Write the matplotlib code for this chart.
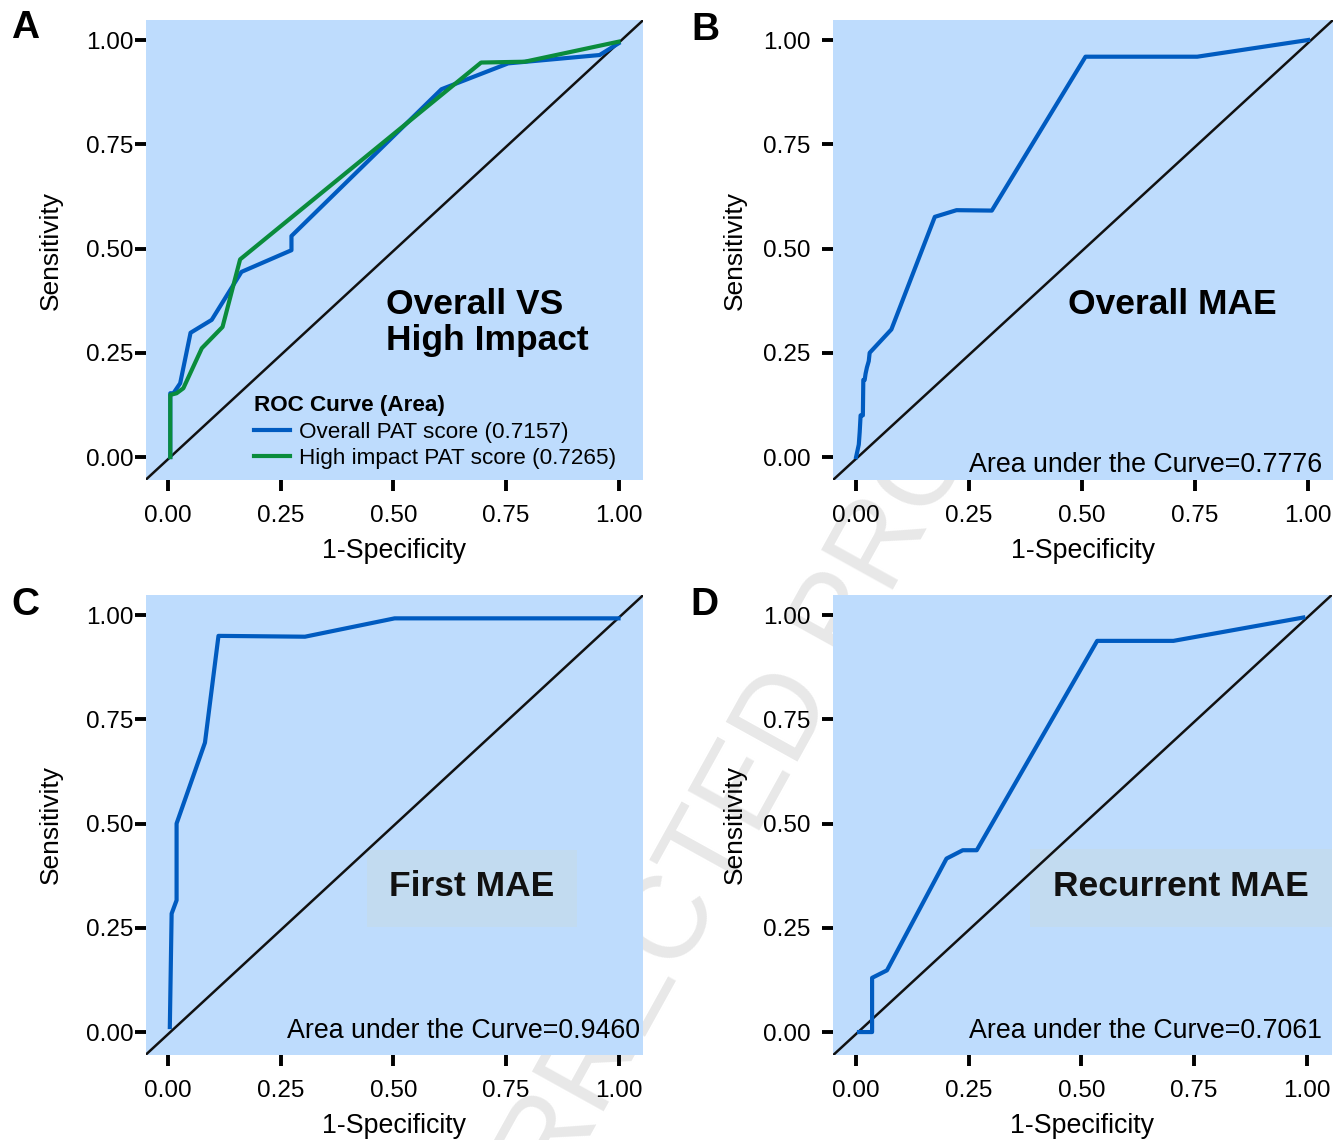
import matplotlib
matplotlib.use("Agg")
import matplotlib.pyplot as plt
from matplotlib.patches import Rectangle

plt.rcParams["font.family"] = ["Liberation Sans", "DejaVu Sans"]

BG = "#BEDCFD"
BOX = "#C2DBF0"
BLUE = "#005BC0"
GREEN = "#0A8C3C"

ticks = [0.0, 0.25, 0.5, 0.75, 1.0]
tick_labels = ["0.00", "0.25", "0.50", "0.75", "1.00"]

# A: overall vs high impact PAT score
fpr_overall = [0.005, 0.005, 0.012, 0.027, 0.050, 0.097, 0.163, 0.274, 0.274, 0.607, 0.755, 0.958, 1.0]
tpr_overall = [0.0, 0.153, 0.153, 0.177, 0.298, 0.329, 0.444, 0.496, 0.530, 0.882, 0.944, 0.964, 0.992]
fpr_high = [0.005, 0.005, 0.019, 0.034, 0.075, 0.121, 0.160, 0.695, 0.792, 1.0]
tpr_high = [0.0, 0.149, 0.153, 0.165, 0.261, 0.312, 0.474, 0.946, 0.948, 0.996]

# B: overall MAE
fpr_b = [0.001, 0.007, 0.009, 0.011, 0.016, 0.017, 0.020, 0.022, 0.025, 0.029, 0.031,
         0.079, 0.175, 0.223, 0.301, 0.508, 0.755, 1.0]
tpr_b = [0.0, 0.03, 0.06, 0.10, 0.10, 0.185, 0.185, 0.20, 0.215, 0.23, 0.25,
         0.306, 0.576, 0.592, 0.591, 0.960, 0.960, 1.0]

# C: first MAE
fpr_c = [0.004, 0.008, 0.019, 0.019, 0.082, 0.112, 0.304, 0.503, 1.0]
tpr_c = [0.012, 0.284, 0.316, 0.50, 0.694, 0.95, 0.948, 0.992, 0.992]

# D: recurrent MAE
fpr_d = [0.007, 0.036, 0.036, 0.069, 0.201, 0.237, 0.268, 0.535, 0.704, 0.992]
tpr_d = [0.0, 0.0, 0.13, 0.148, 0.416, 0.436, 0.436, 0.938, 0.938, 0.994]

auc_b = 0.7776
auc_c = 0.9460
auc_d = 0.7061

W, H = 1343, 1140
fig = plt.figure(figsize=(W / 100, H / 100), dpi=100)

# faint watermark behind the panels
fig.text(0.518, 0.225, "UNCORRECTED PROOF", rotation=61, fontsize=85,
         color="#E8E8E8", ha="center", va="center", zorder=-1)


def make_axes(left, bottom, width, ypad, ylab_x):
    ax = fig.add_axes([left / W, (H - bottom) / H, width / W, 460 / H])
    ax.set_facecolor(BG)
    for s in ax.spines.values():
        s.set_visible(False)
    ax.set_xlim(-0.05, 1.055)
    ax.set_ylim(-0.055, 1.048)
    ax.set_xticks(ticks, tick_labels)
    ax.set_yticks(ticks, tick_labels)
    ax.tick_params(direction="out", length=8, width=2.8, labelsize=17.5, colors="black")
    ax.tick_params(axis="x", pad=10)
    ax.tick_params(axis="y", pad=ypad)
    ax.plot(ax.get_xlim(), ax.get_ylim(), color="#111111", lw=1.8, zorder=2)
    ax.set_xlabel("1-Specificity", fontsize=19.3)
    ax.set_ylabel("Sensitivity", fontsize=19)
    ax.xaxis.set_label_coords(0.5, -0.127)
    ax.yaxis.set_label_coords(ylab_x, 0.5)
    return ax


axA = make_axes(145.5, 480, 497.8, 0.5, -0.166)
axB = make_axes(833, 480, 500, 8.4, -0.173)
axC = make_axes(145.5, 1055, 497.8, 0.5, -0.166)
axD = make_axes(833.3, 1055, 498.4, 8.4, -0.173)

# A
axA.plot(fpr_overall, tpr_overall, color=BLUE, lw=3, label="Overall PAT score (0.7157)", zorder=3)
axA.plot(fpr_high, tpr_high, color=GREEN, lw=3, label="High impact PAT score (0.7265)", zorder=3)
# multi-line text: baseline anchor is the last line
axA.text(0.483, 0.257, "Overall VS\nHigh Impact", fontsize=25.5, fontweight="bold",
         va="baseline", ha="left", linespacing=1.13)
leg = axA.legend(loc="upper left", bbox_to_anchor=(0.218, 0.185), borderaxespad=0, borderpad=0,
                 frameon=False, fontsize=16.2, title="ROC Curve (Area)",
                 title_fontproperties={"weight": "bold", "size": 16.2},
                 alignment="left", handlelength=1.6, handletextpad=0.4, labelspacing=0.25)

# B
axB.plot(fpr_b, tpr_b, color=BLUE, lw=3, zorder=3)
axB.text(0.470, 0.343, "Overall MAE", fontsize=25.5, fontweight="bold", va="baseline")
axB.text(0.978, 0.017, "Area under the Curve={:.4f}".format(auc_b), fontsize=19.3,
         ha="right", va="baseline", transform=axB.transAxes)

# C
axC.plot(fpr_c, tpr_c, color=BLUE, lw=3, zorder=3)
axC.add_patch(Rectangle((0.444, 0.279), 0.423, 0.167, transform=axC.transAxes,
                        facecolor=BOX, edgecolor="none", zorder=1))
axC.text(0.49, 0.326, "First MAE", fontsize=25.5, fontweight="bold", va="baseline", color="#111111")
axC.text(0.994, 0.037, "Area under the Curve={:.4f}".format(auc_c), fontsize=19.3,
         ha="right", va="baseline", transform=axC.transAxes)

# D
axD.plot(fpr_d, tpr_d, color=BLUE, lw=3, zorder=3)
axD.add_patch(Rectangle((0.395, 0.279), 0.605, 0.169, transform=axD.transAxes,
                        facecolor=BOX, edgecolor="none", zorder=1))
axD.text(0.436, 0.326, "Recurrent MAE", fontsize=25.5, fontweight="bold", va="baseline", color="#111111")
axD.text(0.981, 0.037, "Area under the Curve={:.4f}".format(auc_d), fontsize=19.3,
         ha="right", va="baseline", transform=axD.transAxes)

# panel letters
for lab, x, y in [("A", 25, 28), ("B", 705, 30), ("C", 25, 605), ("D", 704, 605)]:
    fig.text(x / W, 1 - y / H, lab, fontsize=28, fontweight="bold", ha="center", va="center")

fig.savefig("out.png", dpi=100)
